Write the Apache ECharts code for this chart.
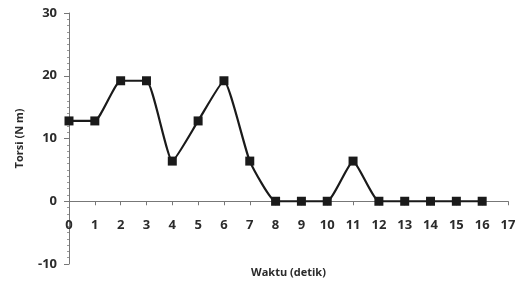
<!DOCTYPE html>
<html>
<head>
<meta charset="utf-8">
<script src="https://cdn.jsdelivr.net/npm/echarts@6/dist/echarts.min.js"></script>
<style>
html, body { margin: 0; padding: 0; background: #fff; }
#chart { width: 518px; height: 286px; }
</style>
</head>
<body>
<div id="chart"></div>
<script>
// waktu (detik) dan torsi (N m)
var waktu = [0, 1, 2, 3, 4, 5, 6, 7, 8, 9, 10, 11, 12, 13, 14, 15, 16];
var torsi = [12.8, 12.8, 19.2, 19.2, 6.4, 12.8, 19.2, 6.4, 0, 0, 0, 6.4, 0, 0, 0, 0, 0];
var yTicks = [-10, 0, 10, 20, 30];

var chart = echarts.init(document.getElementById('chart'));
var textColor = '#2b2b2b';
var axisColor = '#777';

var gridTop = 13, gridBottom = 22;
var plotH = 286 - gridTop - gridBottom;
var yMin = yTicks[0], yMax = yTicks[yTicks.length - 1];
// the x axis sits on y = 0, labels right under it
var zeroOffset = -plotH * (0 - yMin) / (yMax - yMin);

var option = {
    animation: false,
    backgroundColor: '#fff',
    grid: {left: 69, right: 10, top: gridTop, bottom: gridBottom, containLabel: false, outerBoundsMode: 'none'},
    xAxis: {
        type: 'value',
        min: 0,
        max: 17,
        interval: 1,
        offset: zeroOffset,
        name: 'Waktu (detik)',
        nameLocation: 'middle',
        nameGap: 66,
        nameTextStyle: {color: textColor, fontFamily: 'Open Sans', fontWeight: 'bold', fontSize: 11},
        axisLine: {onZero: false, lineStyle: {color: axisColor, width: 1}},
        axisTick: {show: true, length: 4, lineStyle: {color: axisColor}},
        axisLabel: {color: textColor, fontFamily: 'Open Sans', fontWeight: 'bold', fontSize: 13, margin: 18},
        splitLine: {show: false}
    },
    yAxis: {
        type: 'value',
        min: yMin,
        max: yMax,
        interval: 10,
        name: 'Torsi (N m)',
        nameLocation: 'middle',
        nameGap: 44,
        nameTextStyle: {color: textColor, fontFamily: 'Open Sans', fontWeight: 'bold', fontSize: 11},
        axisLine: {show: true, onZero: false, lineStyle: {color: axisColor, width: 1}},
        axisTick: {show: true, length: 5, lineStyle: {color: axisColor}},
        minorTick: {show: true, splitNumber: 10, length: 2, lineStyle: {color: '#999'}},
        axisLabel: {color: textColor, fontFamily: 'Open Sans', fontWeight: 'bold', fontSize: 13, margin: 12},
        splitLine: {show: false}
    },
    series: [{
        type: 'line',
        data: waktu.map(function (w, i) { return [w, torsi[i]]; }),
        smooth: 0.15,
        symbol: 'rect',
        symbolSize: 9,
        itemStyle: {color: '#1a1a1a'},
        lineStyle: {color: '#1a1a1a', width: 2.2}
    }]
};
chart.setOption(option);
</script>
</body>
</html>
